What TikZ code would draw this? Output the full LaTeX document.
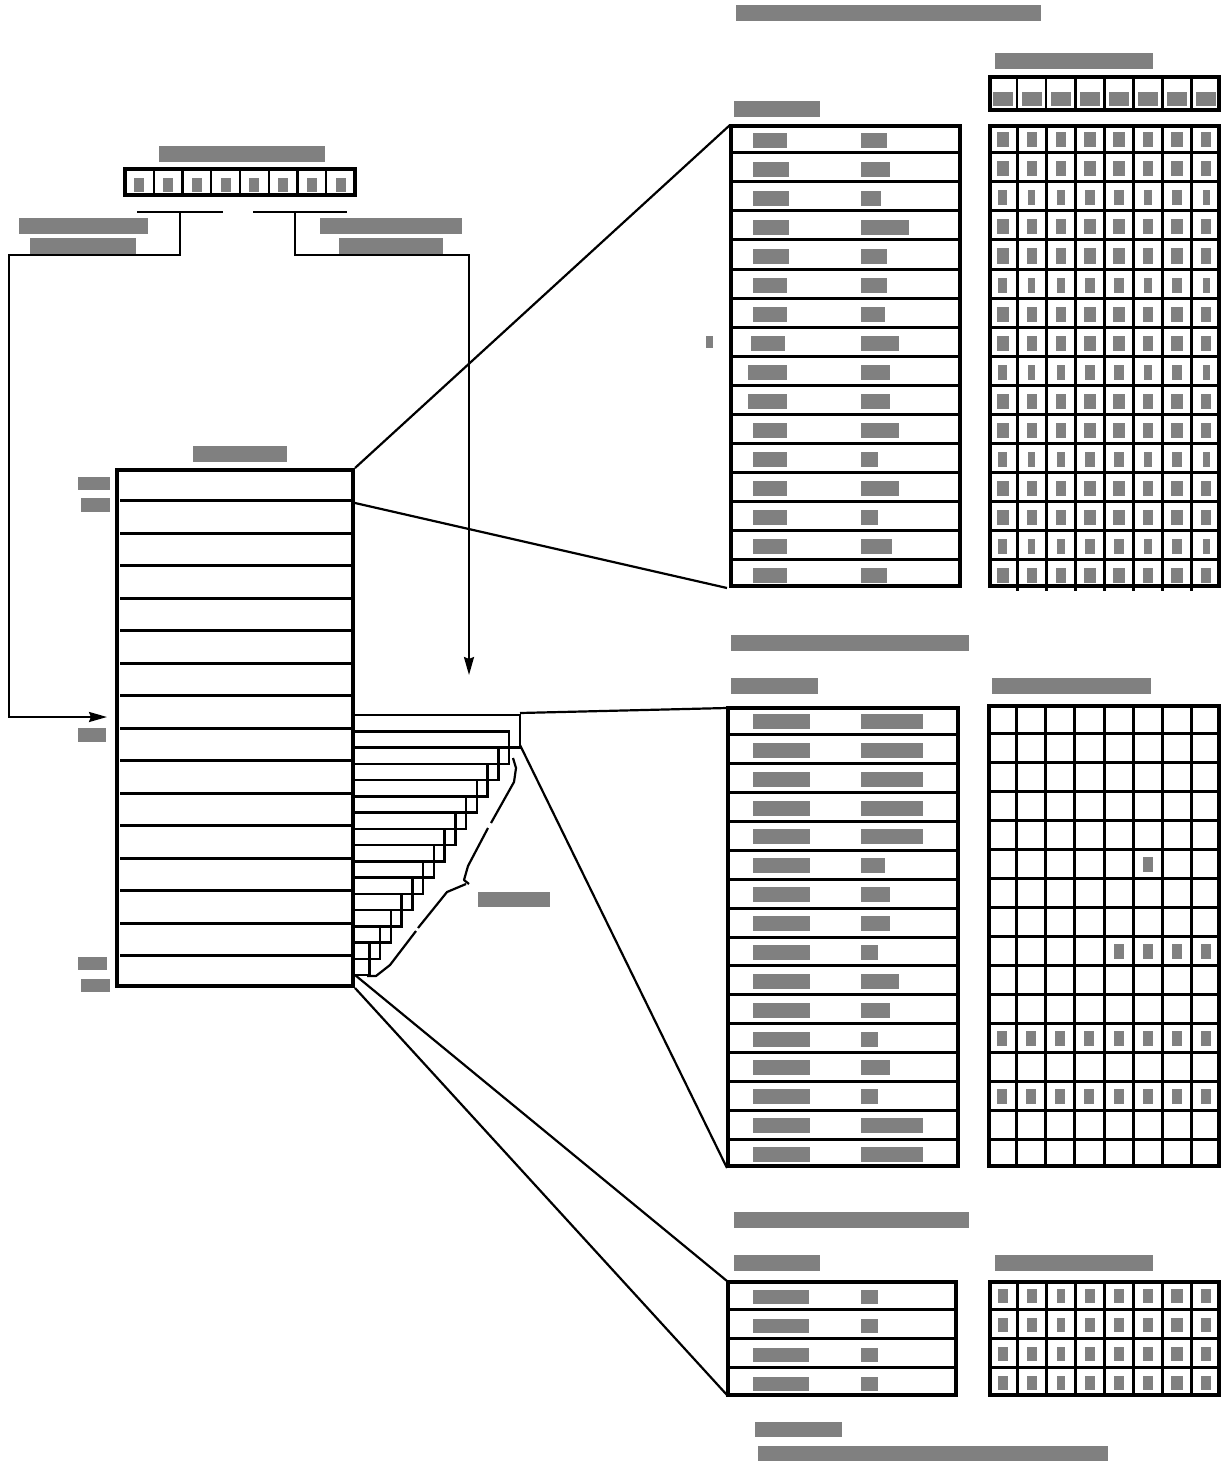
\documentclass[tikz,border=0pt]{standalone}
\usetikzlibrary{arrows.meta}
\begin{document}
\begin{tikzpicture}[x=1pt,y=-1pt,
  frame/.style={line width=4.5pt},
  rowline/.style={line width=3pt},
  conn/.style={line width=2.2pt},
  stair/.style={line width=2.5pt},
  arr/.style={conn,-{Stealth[length=18pt,width=10pt,inset=2pt]}}]
\definecolor{tg}{RGB}{128,128,128}
\newcommand\gb[4]{\fill[tg] (#1,#2) rectangle (#3,#4);}
\useasboundingbox (0,0) rectangle (1222,1463);
\fill[white] (0,0) rectangle (1222,1463);

% ---------- top title
\gb{736}{5}{1041}{21}

% ---------- top-left register
\gb{159}{146}{325}{162}
\draw[frame] (125,169) rectangle (355,195);
\foreach \k in {1,...,7}{\draw[line width=2.2pt] (125+28.75*\k,169) -- (125+28.75*\k,195);}
\foreach \k in {0,...,7}{\pgfmathsetmacro\cx{125+28.75*(\k+0.5)}
  \fill[tg] (\cx-5,178) rectangle (\cx+5,192);}

% brace lines and arrows
\coordinate (lb1) at (137,212); \coordinate (lb2) at (223,212);
\coordinate (rb1) at (253,212); \coordinate (rb2) at (347,212);
\draw[conn] (lb1) -- (lb2);
\draw[conn] (rb1) -- (rb2);
\coordinate (la) at (107,717);
\coordinate (ra) at (469,675);
\draw[arr] (180,212) -- (180,255) -- (9,255) -- (9,717) -- (la);
\draw[arr] (295,212) -- (295,255) -- (469,255) -- (ra);
\gb{19}{218}{148}{234}\gb{30}{238}{136}{254}
\gb{320}{218}{462}{234}\gb{339}{238}{443}{254}

% ---------- main block
\gb{193}{446}{287}{462}
\draw[frame] (117,470) rectangle (353,986);
\foreach \k in {1,...,15}{\draw[rowline] (120,468+32.5*\k) -- (353,468+32.5*\k);}
\gb{78}{477}{110}{490}\gb{81}{498}{110}{512}
\gb{78}{728}{106}{742}
\gb{78}{957}{107}{970}\gb{81}{979}{110}{992}
\coordinate (mtr) at (355,468);
\coordinate (m1) at (355,503);
\coordinate (mb1) at (355,975);
\coordinate (mbr) at (355,988);

% staircase brackets
\foreach \i in {0,...,14}{
  \pgfmathsetmacro\ya{715+16.25*\i}
  \pgfmathsetmacro\yb{715+16.25*(\i+2)}
  \pgfmathsetmacro\xa{520-10.76*\i}
  \draw[stair] (355,\ya) -- (\xa,\ya) -- (\xa,\yb) -- (355,\yb);
}
\coordinate (st) at (520,713);
\coordinate (sb) at (520,745);

% brace curve
\draw[conn,line join=round] (513,758) -- (516,768) -- (514,782) -- (491,823);
\draw[conn,line join=round] (488,828) -- (468,866) -- (464,880) -- (469,884);
\draw[conn,line join=round] (466,884) -- (447,892) -- (418,928);
\draw[conn,line join=round] (416,931) -- (390,965) -- (376,976) -- (367,976);
\gb{478}{892}{550}{907}

% ---------- section 1
\gb{734}{101}{820}{117}
\gb{706}{336}{713}{348}
\draw[frame] (731,126) rectangle (960,586);
\foreach \k in {1,...,15}{\draw[rowline] (733,124+29*\k) -- (960,124+29*\k);}
\foreach \r/\a/\b/\e in {0/753/787/887,1/753/789/890,2/753/789/881,3/753/789/909,
  4/753/789/887,5/753/787/887,6/753/787/885,7/751/785/899,8/748/787/890,
  9/748/787/890,10/753/787/899,11/753/787/878,12/753/787/899,13/753/787/878,
  14/753/787/892,15/753/787/887}{
  \pgfmathsetmacro\cy{124+29*(\r+0.5)+2}
  \fill[tg] (\a,\cy-7.5) rectangle (\b,\cy+7.5);
  \fill[tg] (861,\cy-7.5) rectangle (\e,\cy+7.5);
}
\coordinate (t1t) at (730,125);
\coordinate (t1b) at (727,588);

% grid 1 header strip
\gb{995}{53}{1153}{69}
\draw[frame] (990,77) rectangle (1219,110);
\foreach \k in {1,...,7}{\draw[line width=2.5pt] (988+29.1*\k,77) -- (988+29.1*\k,110);}
\foreach \k in {0,...,7}{\pgfmathsetmacro\cx{988+29.1*(\k+0.5)}
  \fill[tg] (\cx-10,92) rectangle (\cx+10,106);}

% grid 1
\draw[frame] (990,126) rectangle (1219,586);
\foreach \k in {1,...,15}{\draw[rowline] (990,124+29*\k) -- (1219,124+29*\k);}
\foreach \k in {1,...,7}{\draw[rowline] (988+29.1*\k,126) -- (988+29.1*\k,591);}
\foreach \r in {0,...,15}{
  \foreach \c/\w in {0/12,1/10,2/10,3/12,4/12,5/10,6/12,7/10}{
    \pgfmathsetmacro\cx{988+29.1*(\c+0.5)}
    \pgfmathsetmacro\cy{124+29*(\r+0.5)+1.5}
    \pgfmathsetmacro\ww{mod(\r,3)==2 ? \w-2.5 : \w}
    \fill[tg] (\cx-\ww/2,\cy-7.5) rectangle (\cx+\ww/2,\cy+7.5);
  }
}

% ---------- section 2
\gb{731}{635}{969}{651}
\gb{731}{678}{818}{694}
\gb{992}{678}{1151}{694}
\draw[frame] (728,708) rectangle (958,1166);
\foreach \k in {1,...,15}{\draw[rowline] (730,706+28.875*\k) -- (958,706+28.875*\k);}
\foreach \r/\e in {0/923,1/923,2/923,3/923,4/923,5/885,6/890,7/890,8/878,
  9/899,10/890,11/878,12/890,13/878,14/923,15/923}{
  \pgfmathsetmacro\cy{706+28.875*(\r+0.5)+1}
  \fill[tg] (753,\cy-7.5) rectangle (810,\cy+7.5);
  \fill[tg] (861,\cy-7.5) rectangle (\e,\cy+7.5);
}
\coordinate (t2t) at (727,708);
\coordinate (t2b) at (727,1168);

\draw[frame] (989,706) rectangle (1219,1166);
\foreach \k in {1,...,15}{\draw[rowline] (989,704+29*\k) -- (1219,704+29*\k);}
\foreach \k in {1,...,7}{\draw[rowline] (987+29.25*\k,706) -- (987+29.25*\k,1166);}
\foreach \r/\c in {5/5,8/4,8/5,8/6,8/7,11/0,11/1,11/2,11/3,11/4,11/5,11/6,11/7,
  13/0,13/1,13/2,13/3,13/4,13/5,13/6,13/7}{
  \pgfmathsetmacro\cx{987+29.25*(\c+0.5)}
  \pgfmathsetmacro\cy{704+29*(\r+0.5)+1}
  \fill[tg] (\cx-5,\cy-7.5) rectangle (\cx+5,\cy+7.5);
}

% ---------- section 3
\gb{734}{1212}{969}{1228}
\gb{734}{1255}{820}{1271}
\gb{995}{1255}{1153}{1271}
\draw[frame] (728,1282) rectangle (956,1395);
\foreach \k in {1,...,3}{\draw[rowline] (730,1280+29.25*\k) -- (956,1280+29.25*\k);}
\foreach \r in {0,...,3}{
  \pgfmathsetmacro\cy{1280+29.25*(\r+0.5)+2}
  \fill[tg] (753,\cy-7) rectangle (809,\cy+7);
  \fill[tg] (861,\cy-7) rectangle (878,\cy+7);
}
\coordinate (t3t) at (727,1281);
\coordinate (t3b) at (727,1395);

\draw[frame] (990,1282) rectangle (1219,1395);
\foreach \k in {1,...,3}{\draw[rowline] (990,1280+29.25*\k) -- (1219,1280+29.25*\k);}
\foreach \k in {1,...,7}{\draw[rowline] (988+29.1*\k,1282) -- (988+29.1*\k,1395);}
\foreach \r in {0,...,3}{
  \foreach \c/\w in {0/10,1/10,2/8,3/10,4/10,5/10,6/12,7/10}{
    \pgfmathsetmacro\cx{988+29.1*(\c+0.5)}
    \pgfmathsetmacro\cy{1280+29.25*(\r+0.5)+1}
    \fill[tg] (\cx-\w/2,\cy-7) rectangle (\cx+\w/2,\cy+7);
  }
}

% bottom labels
\gb{755}{1422}{842}{1437}
\gb{758}{1446}{1108}{1461}

% ---------- connectors
\draw[conn] (mtr) -- (t1t);
\draw[conn] (m1) -- (t1b);
\draw[conn] (st) -- (t2t);
\draw[conn] (sb) -- (t2b);
\draw[conn] (mb1) -- (t3t);
\draw[conn] (mbr) -- (t3b);
\end{tikzpicture}
\end{document}
